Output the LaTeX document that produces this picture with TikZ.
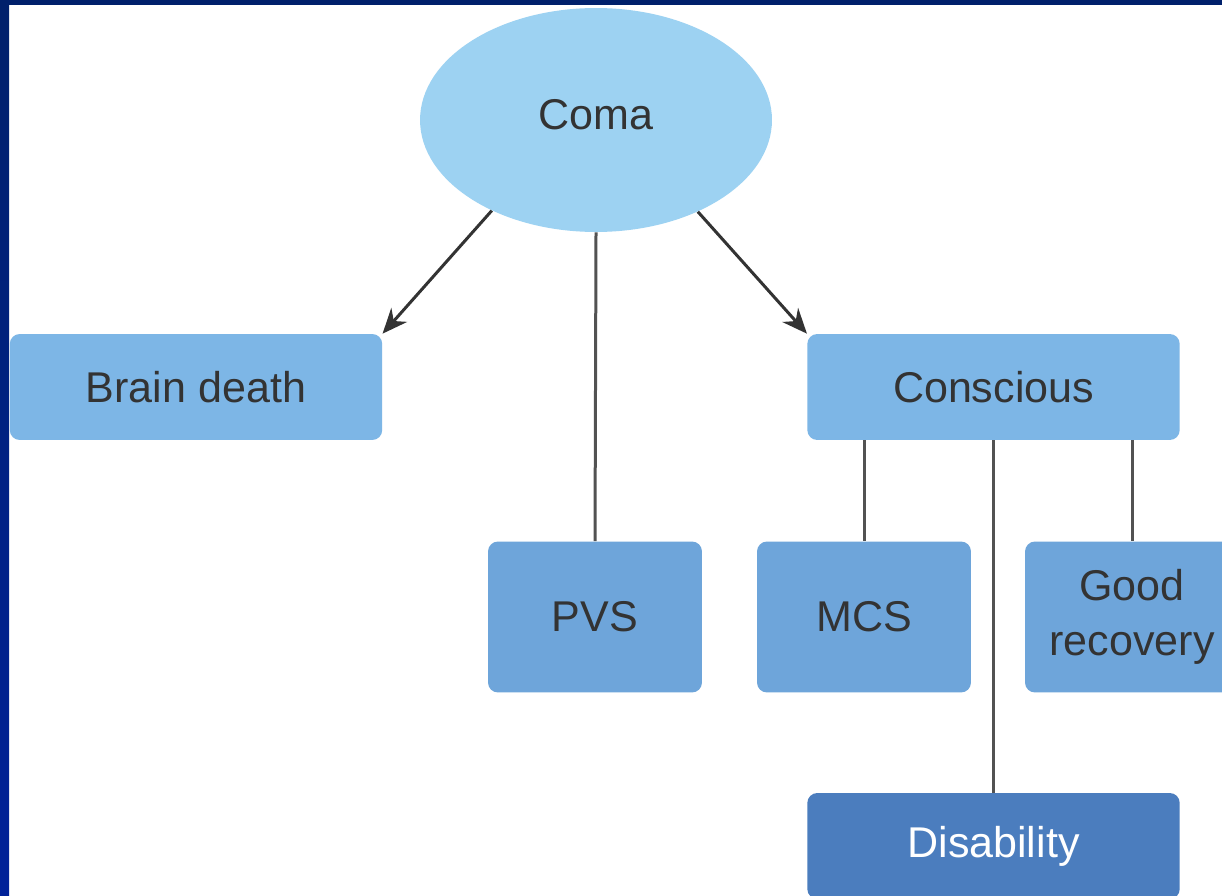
\documentclass[tikz,border=0pt]{standalone}
\usepackage{fontspec}
\setmainfont{Liberation Sans}
\usetikzlibrary{shapes.geometric,arrows.meta}
\definecolor{frameblue}{HTML}{002A80}
\definecolor{frametop}{HTML}{00206B}
\definecolor{comablue}{HTML}{9DD2F2}
\definecolor{boxblue}{HTML}{7DB6E6}
\definecolor{midblue}{HTML}{6EA5DA}
\definecolor{deepblue}{HTML}{4B7DBE}
\definecolor{inkgray}{HTML}{333333}
\begin{document}
\begin{tikzpicture}[x=0.02cm, y=-0.02cm,
    every node/.style={font=\fontsize{24.5}{31}\selectfont, text=inkgray},
    box/.style={rectangle, rounded corners=0.2cm, inner sep=0pt},
    wide/.style={box, fill=boxblue, minimum width=7.45cm, minimum height=2.12cm},
    tall/.style={box, fill=midblue, minimum width=4.28cm, minimum height=3.02cm, align=center},
    link/.style={draw=inkgray!85, line width=0.06cm},
    arrowlink/.style={link, draw=inkgray, -{Stealth[length=0.5cm, width=0.42cm]}}]
    \clip (0,0) rectangle (1222,895);
    \fill[white] (0,0) rectangle (1222,895);
    \shade[top color=frametop, bottom color=frameblue!80!blue] (0,0) rectangle (9,895);
    \fill[frametop] (0,0) rectangle (1222,5);

    \node[ellipse, fill=comablue, minimum width=7.04cm, minimum height=4.48cm] (coma) at (596,120) {};
    \node (comatext) at (596,115) {Coma};
    \node[wide] (brain) at (196,387) {Brain death};
    \node[wide] (conscious) at (993.5,387) {Conscious};
    \node[tall] (pvs) at (595,617) {PVS};
    \node[tall] (mcs) at (864,617) {MCS};
    \node[tall] (good) at (1132,617) {Good\\recovery};
    \node[wide, fill=deepblue, text=white] (disability) at (993.5,846) {Disability};

    \draw[arrowlink] (coma.221) -- (brain.north east);
    \draw[arrowlink] (coma.318) -- (conscious.north west);
    \draw[link] (coma.south) -- (pvs.north);
    \draw[link] (mcs.north |- conscious.south) -- (mcs.north);
    \draw[link] (conscious) -- (disability);
    \draw[link] (good.north |- conscious.south) -- (good.north);
\end{tikzpicture}
\end{document}
